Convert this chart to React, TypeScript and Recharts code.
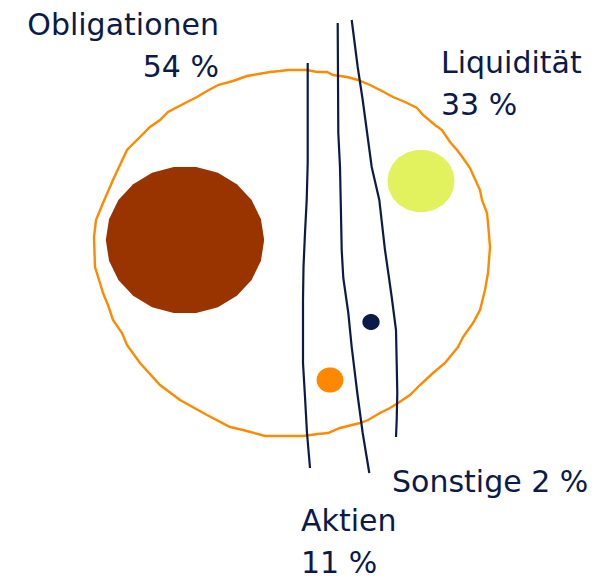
import { ScatterChart, Scatter, XAxis, YAxis, ZAxis } from 'recharts';

// asset classes and their shares
const categories = ['Obligationen', 'Liquidität', 'Aktien', 'Sonstige'];
const shares = [54, 33, 11, 2];

// bubble centres and relative areas
const bubbleX = [185, 421, 330, 371];
const bubbleY = [240, 181, 380, 322];
const bubbleArea = [100, 18, 2.9, 1.2];

// label anchor points (baseline of the first line)
const labelX = [219, 441, 301, 392];
const labelY = [35, 73, 531, 492];

// hand drawn outer ring
const ring: [number, number][] = [
  [280, 71], [288, 70], [307, 70], [317, 72], [327, 72], [333, 75], [347, 77], [358, 80],
  [370, 85], [380, 90], [393, 97], [405, 102], [417, 108], [423, 115], [435, 125], [442, 130],
  [450, 142], [457, 150], [463, 158], [470, 168], [480, 190], [482, 200], [487, 213], [488, 223],
  [490, 247], [488, 273], [485, 290], [480, 310], [473, 323], [463, 337], [458, 347], [445, 363],
  [433, 373], [420, 385], [410, 395], [398, 403], [390, 408], [380, 413], [368, 420], [360, 423],
  [340, 428], [328, 433], [318, 434], [303, 436], [265, 436], [243, 430], [230, 427], [207, 415],
  [180, 400], [160, 385], [140, 363], [127, 345], [122, 333], [113, 320], [108, 305], [103, 293],
  [100, 283], [95, 267], [94, 237], [96, 220], [103, 203], [113, 180], [127, 150], [140, 137],
  [150, 127], [160, 120], [168, 112], [187, 102], [197, 97], [207, 91], [218, 85], [233, 81],
  [247, 76], [270, 72], [280, 71],
];

// hand drawn leader strokes
const leaderA: [number, number][] = [
  [307.7, 63], [307.7, 163], [306.7, 200], [305, 233], [303.5, 267], [303, 300], [303, 363],
  [305, 397], [307, 433], [310, 468],
];
const leaderB: [number, number][] = [
  [337.7, 23], [338.3, 133], [340, 167], [340.7, 200], [341.7, 250], [343.3, 278], [348.3, 313],
  [351.7, 347], [357.3, 393], [362.7, 433], [369.3, 473],
];
const leaderC: [number, number][] = [
  [351.7, 20], [357.7, 67], [362.7, 100], [371.7, 167], [379.3, 200], [385, 250], [389.3, 280],
  [391.7, 297], [396, 330], [396.7, 363], [397.3, 393], [396.7, 420], [396, 437],
];

const NAVY = '#0b1a48';
const ORANGE = '#ff8a00';
const bubbleColors = ['#993300', '#e2f25e', '#ff8800', NAVY];
const labelAnchor = ['end', 'start', 'start', 'start'];
const twoLines = [true, true, true, false];

const toPts = (arr: [number, number][]) => arr.map(([x, y]) => ({ x, y }));

const bubbles = categories.map((name, i) => ({
  name,
  x: bubbleX[i],
  y: bubbleY[i],
  z: bubbleArea[i],
  color: bubbleColors[i],
}));

const labels = categories.map((name, i) => ({
  name,
  share: shares[i],
  x: labelX[i],
  y: labelY[i],
  i,
}));

const Blob = (props: any) => {
  const { cx, cy, payload } = props;
  const r = props.width ? props.width / 2 : Math.sqrt(Math.max(props.size || 0, 0) / Math.PI);
  const n = 22;
  const pts: string[] = [];
  for (let k = 0; k < n; k++) {
    const a = (k / n) * Math.PI * 2;
    pts.push(`${cx + Math.cos(a) * r * 1.035},${cy + Math.sin(a) * r * 0.965}`);
  }
  return <polygon points={pts.join(' ')} fill={payload.color} />;
};

const Label = (props: any) => {
  const { cx, cy, payload } = props;
  const i = payload.i;
  const style = { fontFamily: '"DejaVu Sans", sans-serif', fontSize: 30, fill: NAVY };
  if (!twoLines[i]) {
    return (
      <text x={cx} y={cy} textAnchor={labelAnchor[i] as any} style={style}>
        {`${payload.name} ${payload.share} %`}
      </text>
    );
  }
  return (
    <text x={cx} y={cy} textAnchor={labelAnchor[i] as any} style={style}>
      <tspan x={cx} dy={0}>{payload.name}</tspan>
      <tspan x={cx} dy={41.5}>{`${payload.share} %`}</tspan>
    </text>
  );
};

const Empty = () => <g />;

export default function App() {
  return (
    <div style={{ position: 'absolute', left: 0, top: 0, background: '#fff' }}>
      <ScatterChart width={596} height={578} margin={{ top: 0, right: 0, bottom: 0, left: 0 }}>
        <XAxis type="number" dataKey="x" domain={[0, 596]} hide />
        <YAxis type="number" dataKey="y" domain={[0, 578]} reversed hide width={0} />
        <ZAxis type="number" dataKey="z" domain={[0, 100]} range={[0, Math.PI * 76.5 * 76.5]} />
        <Scatter
          data={toPts(ring)}
          line={{ stroke: ORANGE, strokeWidth: 2.4 }}
          lineType="joint"
          shape={Empty}
          isAnimationActive={false}
        />
        <Scatter data={bubbles} shape={Blob} isAnimationActive={false} />
        {[leaderA, leaderB, leaderC].map((l, k) => (
          <Scatter
            key={k}
            data={toPts(l)}
            line={{ stroke: NAVY, strokeWidth: 2.2 }}
            lineType="joint"
            shape={Empty}
            isAnimationActive={false}
          />
        ))}
        <Scatter data={labels} shape={Label} isAnimationActive={false} />
      </ScatterChart>
    </div>
  );
}
